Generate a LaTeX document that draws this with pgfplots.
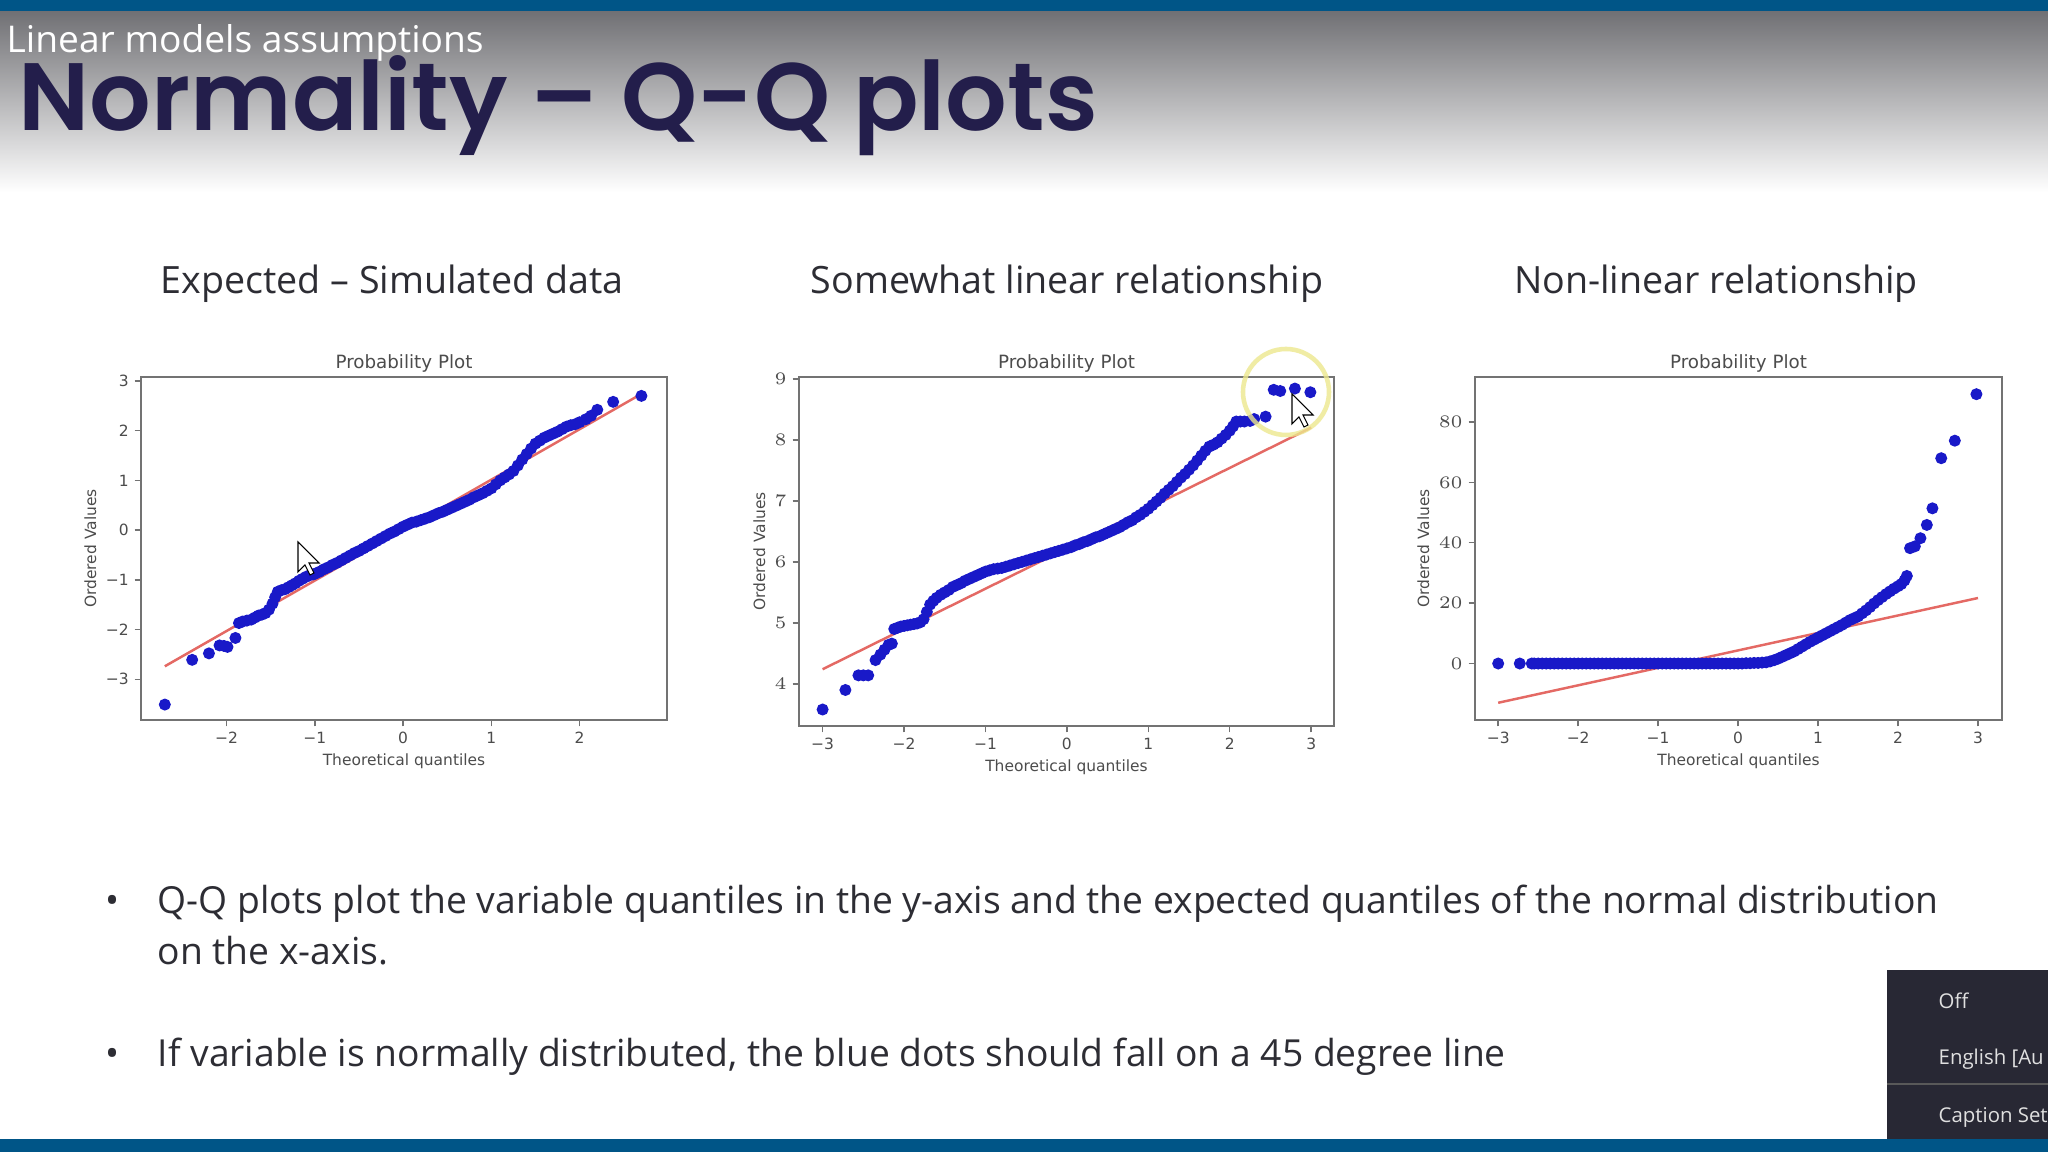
\documentclass[border=0pt]{standalone}
\usepackage{pgfplots}
\pgfplotsset{compat=1.18}
\usepackage{fontspec}
\setmainfont{Open Sans}
\newfontfamily\titlefont{Poppins SemiBold}
\newfontfamily\mplfont{DejaVu Sans}
\usepackage{graphicx}
\definecolor{barblue}{RGB}{0,85,135}
\definecolor{titlenavy}{RGB}{35,30,75}
\definecolor{txtgray}{RGB}{45,45,52}
\definecolor{mplblue}{RGB}{25,25,200}
\definecolor{mplred}{RGB}{228,105,100}
\definecolor{framegray}{RGB}{115,115,115}
\definecolor{menubg}{RGB}{40,40,52}
\definecolor{hdrgray}{RGB}{112,112,116}

\pgfplotsset{
  qq/.style={
    scale only axis,
    axis line style={draw=framegray, line width=0.6pt},
    tick align=outside, tick pos=left,
    major tick length=1.8pt,
    every tick/.style={framegray, line width=0.4pt},
    ticklabel style={font=\mplfont\fontsize{4.4}{5}\selectfont, text=black!70, inner sep=1.5pt},
    xlabel style={font=\mplfont\fontsize{4.4}{5}\selectfont, text=black!70, inner sep=1pt},
    ylabel style={font=\mplfont\fontsize{4.4}{5}\selectfont, text=black!70, inner sep=1pt},
    every axis title shift=0pt,
    title style={font=\mplfont\fontsize{5.2}{6}\selectfont, text=black!70, at={(0.5,1)}, anchor=south, inner sep=1pt},
    title={Probability Plot},
    xlabel={Theoretical quantiles},
    ylabel={Ordered Values},
    xtick={-3,-2,-1,0,1,2,3},
    xticklabels={−3,−2,−1,0,1,2,3},
  },
  dots/.style={only marks, mark=*, mark size=1.5pt, mark options={draw=mplblue, fill=mplblue}},
  fit/.style={no marks, mplred, line width=0.7pt},
}

\begin{document}
\begin{tikzpicture}
\useasboundingbox (0,0) rectangle (20.48,11.52);
\clip (0,0) rectangle (20.48,11.52);
\fill[white] (0,0) rectangle (20.48,11.52);
\shade[top color=hdrgray, bottom color=white] (0,9.6) rectangle (20.48,11.41);
\fill[barblue] (0,11.41) rectangle (20.48,11.52);
\fill[barblue] (0,0) rectangle (20.48,0.13);

% plot 1: simulated data
\begin{axis}[qq, at={(1.41cm,4.32cm)}, anchor=south west,
  width=5.26cm, height=3.43cm,
  xmin=-2.97, xmax=2.99, ymin=-3.82, ymax=3.08,
  xtick={-2,-1,0,1,2}, xticklabels={−2,−1,0,1,2},
  ytick={-3,-2,-1,0,1,2,3}, yticklabels={−3,−2,−1,0,1,2,3}]
\addplot[fit] coordinates {(-2.70,-2.74) (2.70,2.74)};
\addplot[dots] coordinates {
(-2.70,-3.51) (-2.39,-2.61) (-2.20,-2.48) (-2.08,-2.32) (-2.03,-2.33) (-1.99,-2.35)
(-1.90,-2.17) (-1.86,-1.87) (-1.82,-1.84) (-1.77,-1.82) (-1.72,-1.80) (-1.68,-1.76)
(-1.64,-1.72) (-1.60,-1.70) (-1.56,-1.67) (-1.52,-1.60) (-1.48,-1.48) (-1.45,-1.35)
(-1.42,-1.24) (-1.38,-1.21) (-1.34,-1.19) (-1.30,-1.15) (-1.26,-1.11) (-1.22,-1.07)
(-1.18,-1.02) (-1.14,-0.98) (-1.10,-0.94) (-1.06,-0.91) (-1.02,-0.89)
(-1.00,-0.88) (-0.95,-0.84) (-0.90,-0.79) (-0.85,-0.75) (-0.80,-0.70) (-0.75,-0.66)
(-0.70,-0.61) (-0.65,-0.56) (-0.60,-0.51) (-0.55,-0.46) (-0.50,-0.42) (-0.45,-0.37)
(-0.40,-0.32) (-0.35,-0.27) (-0.30,-0.22) (-0.25,-0.17) (-0.20,-0.12) (-0.15,-0.07)
(-0.10,-0.03) (-0.05,0.02) (0.00,0.07) (0.05,0.11) (0.10,0.15) (0.15,0.17)
(0.20,0.20) (0.25,0.23) (0.30,0.26) (0.35,0.30) (0.40,0.34) (0.45,0.37)
(0.50,0.41) (0.55,0.45) (0.60,0.49) (0.65,0.53) (0.70,0.57) (0.75,0.61)
(0.80,0.66) (0.85,0.70) (0.90,0.74) (0.95,0.79) (1.00,0.84) (1.05,0.92)
(1.10,1.00) (1.15,1.06) (1.20,1.12) (1.25,1.19) (1.30,1.30) (1.35,1.42)
(1.40,1.53) (1.45,1.64) (1.50,1.74) (1.55,1.80) (1.60,1.86) (1.65,1.90)
(1.70,1.94) (1.75,1.98) (1.80,2.03) (1.85,2.08) (1.90,2.11) (1.95,2.13)
(2.00,2.17) (2.07,2.23) (2.13,2.30) (2.20,2.42) (2.38,2.58) (2.70,2.70)};
\end{axis}

% plot 2: somewhat linear
\begin{axis}[qq, at={(7.99cm,4.26cm)}, anchor=south west,
  width=5.35cm, height=3.49cm,
  xmin=-3.29, xmax=3.28, ymin=3.31, ymax=9.03,
  ytick={4,5,6,7,8,9}]
\addplot[fit] coordinates {(-3.00,4.24) (3.00,8.20)};
\addplot[dots] coordinates {
(-3.00,3.58) (-2.72,3.90) (-2.56,4.14) (-2.50,4.14) (-2.44,4.14) (-2.35,4.39)
(-2.29,4.48) (-2.24,4.56) (-2.19,4.64) (-2.15,4.66) (-2.12,4.90) (-2.08,4.92)
(-2.04,4.94) (-2.00,4.95) (-1.96,4.96) (-1.92,4.97) (-1.88,4.98) (-1.84,4.99)
(-1.80,5.01) (-1.76,5.06) (-1.72,5.18) (-1.68,5.30) (-1.64,5.36) (-1.60,5.41)
(-1.55,5.46) (-1.50,5.50) (-1.45,5.54) (-1.40,5.59) (-1.35,5.62) (-1.30,5.65)
(-1.25,5.69) (-1.20,5.72) (-1.15,5.75) (-1.10,5.78) (-1.05,5.81) (-1.00,5.84)
(-0.95,5.86) (-0.90,5.88) (-0.85,5.89) (-0.80,5.90) (-0.75,5.92) (-0.70,5.94)
(-0.65,5.96) (-0.60,5.98) (-0.55,6.00) (-0.50,6.02) (-0.45,6.04) (-0.40,6.06)
(-0.35,6.08) (-0.30,6.10) (-0.25,6.12) (-0.20,6.14) (-0.15,6.16) (-0.10,6.18)
(-0.05,6.20) (0.00,6.22) (0.05,6.24) (0.10,6.27) (0.15,6.29) (0.20,6.32)
(0.25,6.34) (0.30,6.37) (0.35,6.40) (0.40,6.42) (0.45,6.45) (0.50,6.48)
(0.55,6.51) (0.60,6.54) (0.65,6.57) (0.70,6.61) (0.75,6.65) (0.80,6.68)
(0.85,6.73) (0.90,6.77) (0.95,6.82) (1.00,6.87) (1.05,6.93) (1.10,6.99)
(1.15,7.05) (1.20,7.12) (1.25,7.18) (1.30,7.24) (1.35,7.31) (1.40,7.38)
(1.45,7.44) (1.50,7.51) (1.55,7.58) (1.60,7.66) (1.65,7.74) (1.70,7.82)
(1.75,7.89) (1.80,7.92) (1.85,7.96) (1.90,8.02) (1.95,8.08) (2.00,8.15)
(2.04,8.22) (2.08,8.30) (2.13,8.30) (2.18,8.30) (2.25,8.31) (2.30,8.34)
(2.44,8.38) (2.54,8.82) (2.62,8.80) (2.80,8.84) (2.99,8.78)};
\end{axis}

% plot 3: non-linear
\begin{axis}[qq, at={(14.75cm,4.32cm)}, anchor=south west,
  width=5.27cm, height=3.43cm,
  xmin=-3.29, xmax=3.30, ymin=-18.7, ymax=94.9,
  ytick={0,20,40,60,80}]
\addplot[fit] coordinates {(-3.00,-13.0) (3.00,21.7)};
\addplot[dots] coordinates {
(-3.00,0) (-2.73,0) (-2.58,0) (-2.55,0) (-2.50,0) (-2.45,0) (-2.40,0) (-2.35,0)
(-2.30,0) (-2.25,0) (-2.20,0) (-2.15,0) (-2.10,0) (-2.05,0) (-2.00,0) (-1.95,0)
(-1.90,0) (-1.85,0) (-1.80,0) (-1.75,0) (-1.70,0) (-1.65,0) (-1.60,0) (-1.55,0)
(-1.50,0) (-1.45,0) (-1.40,0) (-1.35,0) (-1.30,0) (-1.25,0) (-1.20,0) (-1.15,0)
(-1.10,0) (-1.05,0) (-1.00,0) (-0.95,0) (-0.90,0) (-0.85,0) (-0.80,0) (-0.75,0)
(-0.70,0) (-0.65,0) (-0.60,0) (-0.55,0) (-0.50,0) (-0.45,0) (-0.40,0) (-0.35,0)
(-0.30,0) (-0.25,0) (-0.20,0) (-0.15,0) (-0.10,0) (-0.05,0) (0.00,0) (0.05,0)
(0.10,0.1) (0.15,0.1) (0.20,0.2) (0.25,0.2) (0.30,0.3) (0.35,0.4) (0.40,0.7)
(0.45,1.1) (0.50,1.6) (0.55,2.2) (0.60,2.8) (0.65,3.4) (0.70,4.0) (0.75,4.8)
(0.80,5.6) (0.85,6.4) (0.90,7.2) (0.95,7.9) (1.00,8.6) (1.05,9.3) (1.10,10.0)
(1.15,10.7) (1.20,11.4) (1.25,12.1) (1.30,12.8) (1.35,13.6) (1.40,14.4)
(1.45,15.0) (1.50,15.6) (1.55,16.6) (1.60,17.6) (1.65,18.7) (1.70,19.9)
(1.75,21.0) (1.80,22.0) (1.85,23.0) (1.90,23.9) (1.95,24.8) (2.00,25.6)
(2.04,26.3) (2.08,27.5) (2.11,29.0) (2.15,38.2) (2.21,38.8) (2.28,41.5)
(2.36,45.9) (2.43,51.4) (2.54,68.0) (2.71,73.8) (2.98,89.2)};
\end{axis}

% screen overlays: cursor and highlight ring
\draw[black, line width=0.3pt, fill=white] (2.98,6.10) -- ++(0,-0.30) -- ++(0.07,0.07) -- ++(0.05,-0.10) -- ++(0.04,0.02) -- ++(-0.05,0.10) -- ++(0.10,0) -- cycle;
\draw[yellow!60!olive!40, line width=1.3pt, opacity=0.8] (12.86,7.60) circle (0.43);
\draw[black, line width=0.3pt, fill=white] (12.92,7.58) -- ++(0,-0.30) -- ++(0.07,0.07) -- ++(0.05,-0.10) -- ++(0.04,0.02) -- ++(-0.05,0.10) -- ++(0.10,0) -- cycle;

% slide text
\node[anchor=base west, inner sep=0, text=white] at (0.06,10.99)
  {\resizebox{4.77cm}{0.28cm}{Linear models assumptions}};
\node[anchor=base west, inner sep=0, text=titlenavy] at (0.18,10.21)
  {\resizebox{10.79cm}{0.75cm}{\titlefont Normality – Q-Q plots}};
\begin{scope}[every node/.style={anchor=base, inner sep=0, text=txtgray, font=\fontsize{10.7}{13}\selectfont}]
\node at (3.92,8.58) {Expected – Simulated data};
\node at (10.67,8.58) {Somewhat linear relationship};
\node at (17.16,8.58) {Non-linear relationship};
\end{scope}
\begin{scope}[every node/.style={anchor=base west, inner sep=0, text=txtgray, font=\fontsize{10.6}{13}\selectfont}]
\node at (1.05,2.38) {•};
\node at (1.57,2.38) {Q-Q plots plot the variable quantiles in the y-axis and the expected quantiles of the normal distribution};
\node at (1.57,1.87) {on the x-axis.};
\node at (1.05,0.85) {•};
\node at (1.57,0.85) {If variable is normally distributed, the blue dots should fall on a 45 degree line};
\end{scope}

% caption menu
\fill[menubg] (18.87,0.13) rectangle (20.48,1.82);
\draw[gray!70!black, line width=0.6pt] (18.87,0.68) -- (20.48,0.68);
\begin{scope}[every node/.style={anchor=base west, inner sep=0, text=black!12, font=\fontsize{5.8}{7}\selectfont}]
\node at (19.38,1.43) {Off};
\node at (19.38,0.87) {English [Au};
\node at (19.38,0.29) {Caption Set};
\end{scope}
\end{tikzpicture}
\end{document}
